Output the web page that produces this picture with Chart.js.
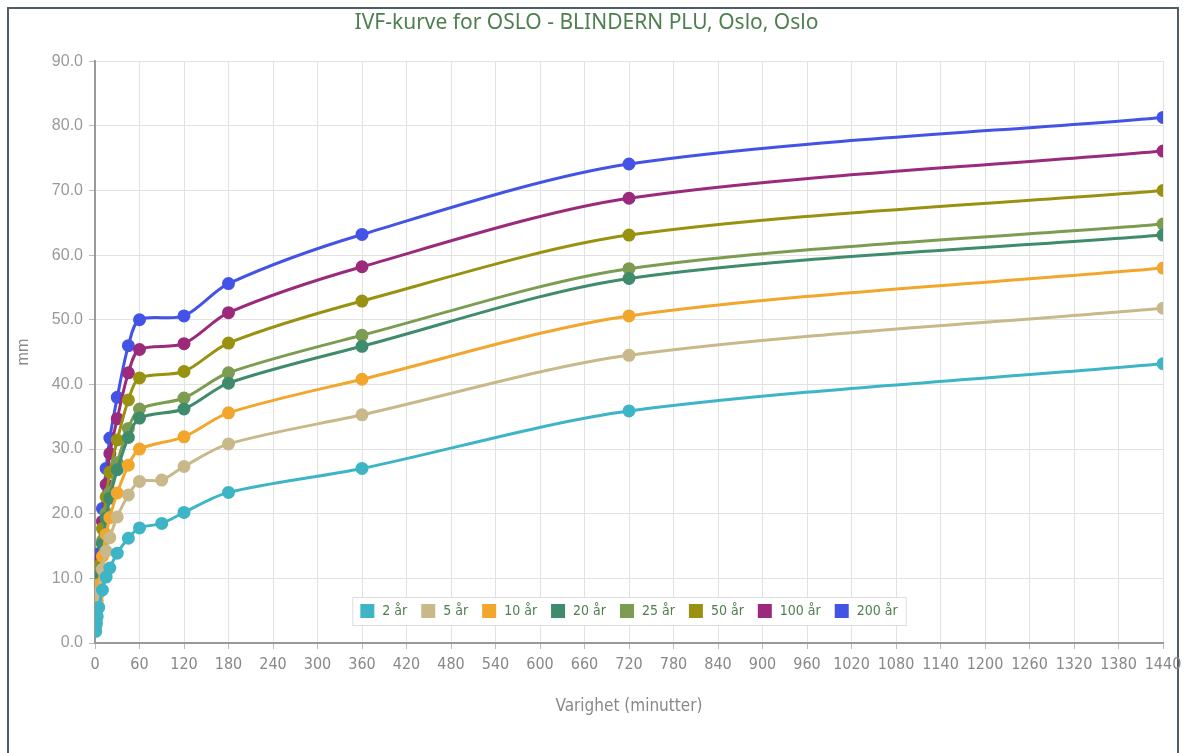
<!DOCTYPE html>
<html>
<head>
<meta charset="utf-8">
<script src="https://cdn.jsdelivr.net/npm/chart.js@4.4.1/dist/chart.umd.min.js"></script>
<style>
  html, body { margin: 0; padding: 0; background: #fff; }
  #frame { position: absolute; left: 7px; top: 7px; width: 1172px; height: 800px; border: 2px solid #4f5d66; box-sizing: border-box; }
  #wrap { position: absolute; left: 0; top: 0; width: 1190px; height: 753px; }
</style>
</head>
<body>
<div id="frame"></div>
<div id="wrap"><canvas id="ivf"></canvas></div>
<script>
// varighet i minutter
const durations = [1, 2, 3, 5, 10, 15, 20, 30, 45, 60, 90, 120, 180, 360, 720, 1440];

// nedbør (mm) per gjentaksintervall, lest av figuren
const ar2   = [1.8, 3.0, 4.1, 5.5, 8.2, 10.2, 11.6, 13.9, 16.2, 17.8, 18.5, 20.2, 23.3, 27.0, 35.9, 43.2];
const ar5   = [2.4, 4.1, 5.6, 7.7, 11.4, 14.2, 16.3, 19.5, 22.9, 25.0, 25.2, 27.3, 30.8, 35.3, 44.5, 51.8];
const ar10  = [2.7, 4.7, 6.5, 9.0, 13.4, 16.8, 19.4, 23.2, 27.5, 30.0, null, 31.9, 35.6, 40.8, 50.6, 58.0];
const ar20  = [3.0, 5.3, 7.4, 10.3, 15.3, 19.3, 22.4, 26.8, 31.8, 34.8, null, 36.2, 40.2, 45.9, 56.4, 63.1];
const ar25  = [3.1, 5.4, 7.6, 10.7, 15.8, 20.1, 23.3, 27.9, 33.2, 36.2, null, 37.9, 41.8, 47.6, 57.9, 64.8];
const ar50  = [3.3, 5.9, 8.4, 11.9, 17.7, 22.6, 26.4, 31.4, 37.6, 41.0, null, 42.0, 46.4, 52.9, 63.1, 70.0];
const ar100 = [3.4, 6.3, 9.0, 12.9, 18.8, 24.5, 29.3, 34.7, 41.8, 45.4, null, 46.3, 51.1, 58.2, 68.8, 76.1];
const ar200 = [3.5, 6.4, 9.4, 13.8, 20.8, 27.0, 31.7, 38.0, 46.0, 50.0, null, 50.6, 55.6, 63.2, 74.1, 81.3];

const seriesNames = ['2 år', '5 år', '10 år', '20 år', '25 år', '50 år', '100 år', '200 år'];
const seriesValues = [ar2, ar5, ar10, ar20, ar25, ar50, ar100, ar200];
const seriesColors = ['#3db5c6', '#c8b88a', '#f2a62c', '#3e8c6c', '#7c9c52', '#999210', '#9b2a7c', '#4353e6'];

const narrow = "'Liberation Sans Narrow', 'DejaVu Sans Condensed', sans-serif";

const datasets = seriesNames.map((name, i) => ({
  label: name,
  data: durations.map((d, j) => ({ x: d, y: seriesValues[i][j] })),
  borderColor: seriesColors[i],
  backgroundColor: seriesColors[i],
  pointBackgroundColor: seriesColors[i],
  pointBorderColor: seriesColors[i],
  borderWidth: 3,
  pointRadius: 5,
  pointHoverRadius: 5,
  tension: 0.3,
  spanGaps: true
}));

// legenden ligger inne i plottet, nederst på midten
const innerLegend = {
  id: 'innerLegend',
  afterDraw(chart) {
    const ctx = chart.ctx;
    const area = chart.chartArea;
    ctx.save();
    ctx.font = '14px ' + narrow;
    const box = 14, gap = 8, itemGap = 14, pad = 8;
    const widths = seriesNames.map(n => box + gap + ctx.measureText(n).width);
    const total = widths.reduce((a, b) => a + b, 0) + itemGap * (widths.length - 1) + pad * 2;
    const h = 28;
    const left = (area.left + area.right) / 2 - total / 2;
    const top = area.bottom - 18 - h;
    ctx.fillStyle = '#fff';
    ctx.fillRect(left, top, total, h);
    ctx.strokeStyle = '#dddddd';
    ctx.lineWidth = 1;
    ctx.strokeRect(left + 0.5, top + 0.5, total, h);
    let x = left + pad;
    seriesNames.forEach((n, i) => {
      ctx.fillStyle = seriesColors[i];
      ctx.fillRect(x, top + (h - box) / 2, box, box);
      ctx.fillStyle = '#4f7f50';
      ctx.textBaseline = 'middle';
      ctx.fillText(n, x + box + gap, top + h / 2);
      x += widths[i] + itemGap;
    });
    ctx.restore();
  }
};

new Chart(document.getElementById('ivf'), {
  type: 'line',
  data: { datasets },
  plugins: [innerLegend],
  options: {
    responsive: true,
    maintainAspectRatio: false,
    animation: false,
    events: [],
    layout: { padding: { left: 10, right: 27, top: 2, bottom: 32 } },
    plugins: {
      legend: { display: false },
      tooltip: { enabled: false },
      title: {
        display: true,
        text: 'IVF-kurve for OSLO - BLINDERN PLU, Oslo, Oslo',
        color: '#4f7f50',
        font: { family: "'Noto Sans', sans-serif", size: 21, weight: 'normal' },
        padding: { top: 8, bottom: 26 }
      }
    },
    scales: {
      x: {
        type: 'linear',
        min: 0,
        max: 1440,
        ticks: {
          stepSize: 60,
          autoSkip: false,
          maxRotation: 0,
          color: '#888',
          font: { family: narrow, size: 16 },
          callback: v => String(v),
          padding: 6
        },
        grid: { color: '#e2e2e2', tickColor: '#bbb', tickLength: 6 },
        border: { color: '#999', width: 2 },
        title: {
          display: true,
          text: 'Varighet (minutter)',
          color: '#888',
          font: { family: narrow, size: 17 },
          padding: { top: 2 }
        },
        afterFit(scale) { scale.height = 78; }
      },
      y: {
        min: 0,
        max: 90,
        ticks: {
          stepSize: 10,
          color: '#999',
          font: { family: 'Liberation Sans, sans-serif', size: 16 },
          callback: v => v.toFixed(1),
          padding: 6
        },
        grid: { color: '#e2e2e2', tickColor: '#bbb', tickLength: 6 },
        border: { color: '#999', width: 2 },
        title: {
          display: true,
          text: 'mm',
          color: '#888',
          font: { family: 'Liberation Sans, sans-serif', size: 16 },
          padding: { bottom: 2 }
        },
        afterFit(scale) { scale.width = 85; }
      }
    }
  }
});
</script>
</body>
</html>
